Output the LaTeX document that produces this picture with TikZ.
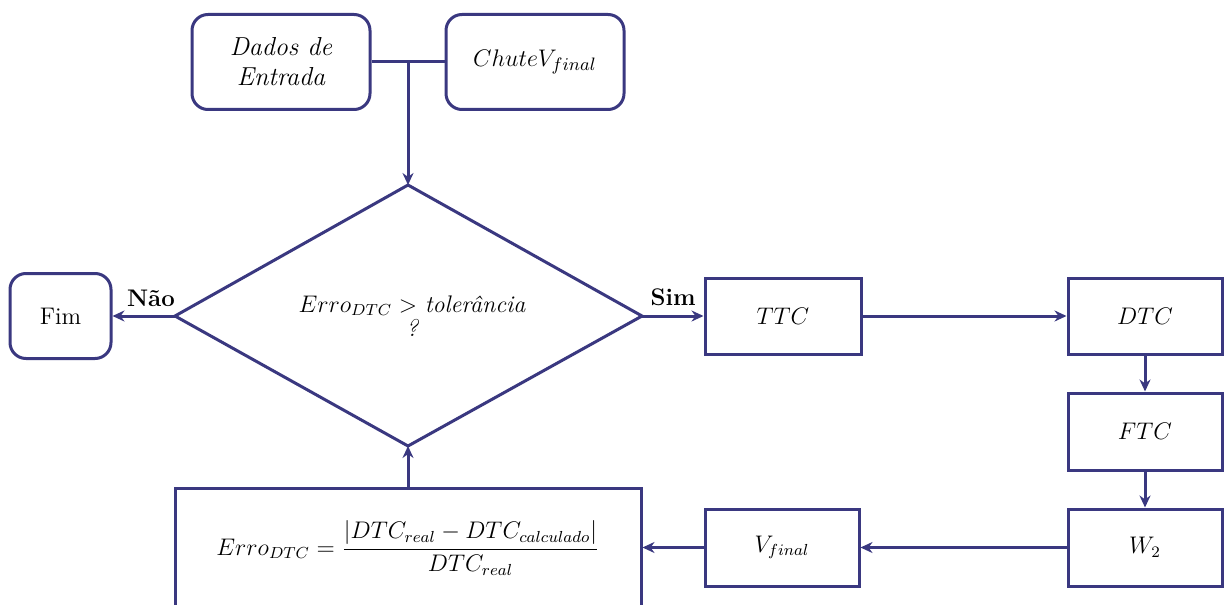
\documentclass[tikz,border=0pt]{standalone}
\usetikzlibrary{arrows.meta}
\definecolor{flow}{RGB}{58,56,128}
\begin{document}
\begin{tikzpicture}[x=0.5pt,y=-0.5pt,
  line width=1.5pt,
  rbox/.style={draw=flow,line width=1.5pt,rounded corners=8pt,minimum width=#1,inner sep=0pt},
  sbox/.style={draw=flow,line width=1.5pt,minimum width=#1,inner sep=0pt},
  arr/.style={draw=flow,line width=1.5pt,-{Stealth[length=6pt,width=5.5pt]}},
  lin/.style={draw=flow,line width=1.5pt},
  lbl/.style={font=\fontsize{12}{14}\selectfont}]
\useasboundingbox (0,0) rectangle (1224,604);
% rounded boxes
\node[rbox=89pt,minimum height=47.5pt,align=center,font=\fontsize{13}{15}\selectfont\itshape] (dados) at (281,62) {Dados de\\Entrada};
\node[rbox=89pt,minimum height=47.5pt,font=\fontsize{12.5}{15}\selectfont] (chute) at (535,62) {$Chute V_{final}$};
\node[rbox=50.5pt,minimum height=42.5pt,font=\fontsize{12}{14}\selectfont] (fim) at (60.5,316) {Fim};
% diamond
\coordinate (dt) at (408,185);
\coordinate (dl) at (175,316);
\coordinate (dr) at (642,316);
\coordinate (db) at (408,446);
\draw[lin] (dt) -- (dr) -- (db) -- (dl) -- cycle;
\node[lbl,align=center] (q) at (412,316) {$Erro_{DTC} >$ \itshape tolerância\\[-2pt]\itshape ?};
% square boxes
\node[sbox=78pt,minimum height=38pt,font=\fontsize{12}{14}\selectfont] (ttc) at (783,316) {$TTC$};
\node[sbox=77pt,minimum height=38pt,font=\fontsize{12}{14}\selectfont] (dtc) at (1145,316) {$DTC$};
\node[sbox=77pt,minimum height=38.5pt,font=\fontsize{12}{14}\selectfont] (ftc) at (1145,431.5) {$FTC$};
\node[sbox=77pt,minimum height=38.5pt,font=\fontsize{12}{14}\selectfont] (w2) at (1145,547.5) {$W_2$};
\node[sbox=77pt,minimum height=38.5pt,font=\fontsize{12}{14}\selectfont] (vf) at (782,547.5) {$V_{final}$};
\node[sbox=233pt,minimum height=75pt,anchor=north] (erro) at (408,487) {};
\node[font=\fontsize{11.5}{14}\selectfont] (ftext) at (408,548) {$\displaystyle Erro_{DTC} = \frac{|DTC_{real} - DTC_{calculado}|}{DTC_{real}}$};
% connectors
\coordinate (j) at (408,62);
\draw[lin] (dados.east) -- (chute.west);
\draw[arr] (j) -- (dt);
\draw[arr] (dl) -- (fim.east);
\draw[arr] (dr) -- (ttc.west);
\draw[arr] (ttc.east) -- (dtc.west);
\draw[arr] (dtc.south) -- (ftc.north);
\draw[arr] (ftc.south) -- (w2.north);
\draw[arr] (w2.west) -- (vf.east);
\draw[arr] (vf.west) -- (erro.east |- vf.west);
\draw[arr] (erro.north) -- (db);
% labels
\node[font=\fontsize{12}{14}\selectfont\bfseries] (nao) at (151,298) {Não};
\node[font=\fontsize{12}{14}\selectfont\bfseries] (sim) at (673,297) {Sim};
\end{tikzpicture}
\end{document}
